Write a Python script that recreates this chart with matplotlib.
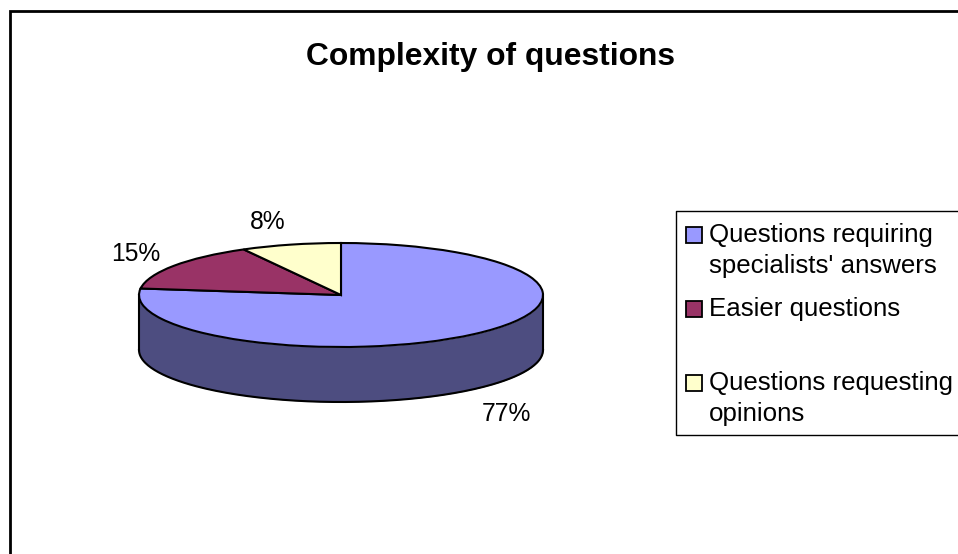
import numpy as np
import matplotlib
matplotlib.use('Agg')
import matplotlib.pyplot as plt
from matplotlib.patches import Rectangle

plt.rcParams['font.family'] = ['Liberation Sans', 'DejaVu Sans']

title = 'Complexity of questions'
categories = ["Questions requiring\nspecialists' answers", 'Easier questions', 'Questions requesting\nopinions']
values = [77, 15, 8]
colors = ['#9999FF', '#993366', '#FFFFCC']
wall_color = '#4D4D80'

W, H = 958, 554
# pie geometry in pixels
cx, cy, rx, ry = 341, 295, 202, 52
depth = 55 / ry

fig = plt.figure(figsize=(W / 100, H / 100), dpi=100, facecolor='white')

# Pie axes: unit circle squashed to an ellipse
ax = fig.add_axes([0, 0, 1, 1])
theta = np.radians(np.linspace(180, 360, 200))
ax.fill_between(np.cos(theta), np.sin(theta), np.sin(theta) - depth, color=wall_color, lw=0)
ax.plot(np.cos(theta), np.sin(theta) - depth, color='black', lw=1.5)
ax.plot([-1, -1], [0, -depth], color='black', lw=1.5)
ax.plot([1, 1], [0, -depth], color='black', lw=1.5)
ax.pie(values, colors=colors, startangle=90, counterclock=False,
       wedgeprops={'edgecolor': 'black', 'linewidth': 1.5})
ax.set_aspect('auto')
ax.set_xlim(-cx / rx, (W - cx) / rx)
ax.set_ylim((cy - H) / ry, cy / ry)
ax.axis('off')

# Overlay in pixel coords for frame, labels and legend
over = fig.add_axes([0, 0, 1, 1])
over.set_xlim(0, W)
over.set_ylim(H, 0)
over.axis('off')

over.plot([10, 10, W], [H, 11, 11], color='black', lw=2, solid_joinstyle='miter')
over.text(491, 57, title, fontsize=22.9, fontweight='bold', ha='center', va='center')

label_pos = [(506, 414), (136, 254), (268, 222)]
for v, (x, y) in zip(values, label_pos):
    over.text(x, y, f'{v}%', fontsize=17.7, ha='center', va='center')

# Legend box
over.plot([W, 676, 676, W], [211, 211, 435, 435], color='black', lw=1)
legend_y = [235, 309, 383]
for name, col, y in zip(categories, colors, legend_y):
    over.add_patch(Rectangle((686, y - 8), 16, 16, facecolor=col, edgecolor='black', lw=1.3))
    over.text(709, y - 12, name, fontsize=18.6, ha='left', va='top', linespacing=1.37)

fig.savefig('out.png', dpi=100)
